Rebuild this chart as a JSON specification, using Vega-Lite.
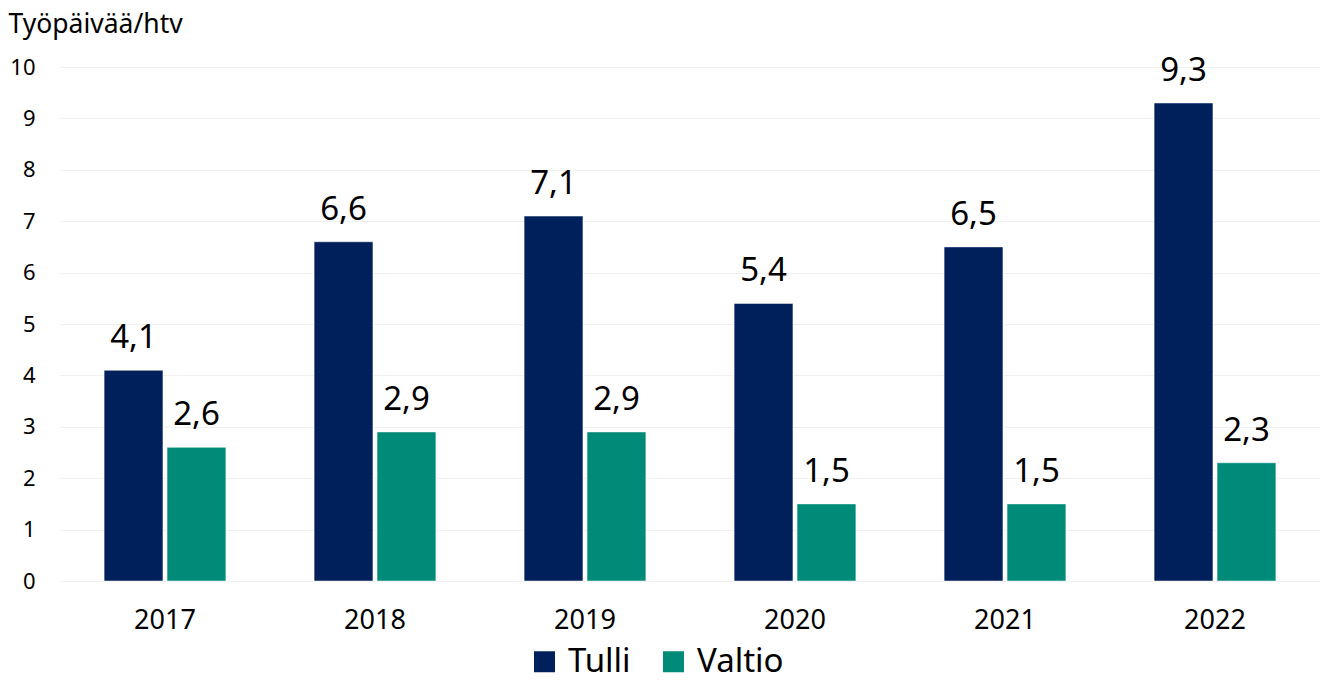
{
  "$schema": "https://vega.github.io/schema/vega-lite/v6.json",
  "autosize": "none",
  "width": 1260,
  "height": 514,
  "padding": {"left": 60, "top": 67, "right": 3, "bottom": 101},
  "background": "white",
  "config": {
    "font": "Noto Sans",
    "view": {"stroke": null},
    "locale": {"number": {"decimal": ",", "thousands": " ", "grouping": [3], "currency": ["", " €"]}}
  },
  "data": {
    "values": [
      {"vuosi": "2017", "sarja": "Tulli", "arvo": 4.1},
      {"vuosi": "2017", "sarja": "Valtio", "arvo": 2.6},
      {"vuosi": "2018", "sarja": "Tulli", "arvo": 6.6},
      {"vuosi": "2018", "sarja": "Valtio", "arvo": 2.9},
      {"vuosi": "2019", "sarja": "Tulli", "arvo": 7.1},
      {"vuosi": "2019", "sarja": "Valtio", "arvo": 2.9},
      {"vuosi": "2020", "sarja": "Tulli", "arvo": 5.4},
      {"vuosi": "2020", "sarja": "Valtio", "arvo": 1.5},
      {"vuosi": "2021", "sarja": "Tulli", "arvo": 6.5},
      {"vuosi": "2021", "sarja": "Valtio", "arvo": 1.5},
      {"vuosi": "2022", "sarja": "Tulli", "arvo": 9.3},
      {"vuosi": "2022", "sarja": "Valtio", "arvo": 2.3}
    ]
  },
  "encoding": {
    "x": {
      "field": "vuosi", "type": "nominal",
      "scale": {"paddingInner": 0.42, "paddingOuter": 0.21},
      "axis": {"title": null, "labelAngle": 0, "labelFontSize": 27, "labelColor": "#000000", "labelPadding": 26, "ticks": false, "domain": false}
    },
    "xOffset": {"field": "sarja", "type": "nominal", "scale": {"paddingInner": 0.065, "paddingOuter": 0}},
    "y": {
      "field": "arvo", "type": "quantitative",
      "scale": {"domain": [0, 10], "nice": false},
      "axis": {
        "title": "Työpäivää/htv", "titleAngle": 0, "titleAlign": "left", "titleBaseline": "alphabetic",
        "titleX": -52, "titleY": -35, "titleFontSize": 26.5, "titleFontWeight": "normal", "titleColor": "#000000",
        "values": [0,1,2,3,4,5,6,7,8,9,10], "labelFontSize": 22, "labelColor": "#000000", "labelPadding": 25,
        "ticks": false, "domain": false, "grid": true, "gridColor": "#f0f0f0", "gridWidth": 1
      }
    }
  },
  "layer": [
    {
      "mark": {"type": "bar", "stroke": "#ffffff", "strokeWidth": 0.5},
      "encoding": {
        "color": {
          "field": "sarja", "type": "nominal",
          "scale": {"domain": ["Tulli", "Valtio"], "range": ["#00205B", "#008A78"]},
          "legend": {
            "title": null, "orient": "none", "direction": "horizontal",
            "legendX": 468, "legendY": 578,
            "symbolType": "square", "symbolSize": 441, "symbolStrokeWidth": 0, "symbolOpacity": 1,
            "labelFontSize": 33, "labelColor": "#000000", "labelOffset": 7, "columnPadding": 26
          }
        }
      }
    },
    {
      "mark": {"type": "text", "baseline": "alphabetic", "dy": -22, "fontSize": 33, "color": "#000000"},
      "encoding": {
        "text": {"field": "arvo", "type": "quantitative", "format": ".1f"}
      }
    }
  ]
}
